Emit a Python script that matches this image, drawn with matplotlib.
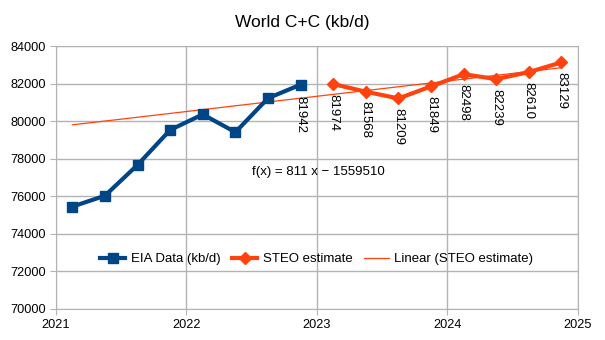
import matplotlib.pyplot as plt
import numpy as np

plt.rcParams['font.family'] = ['Liberation Sans', 'DejaVu Sans']

eia_x = [2021.125, 2021.375, 2021.625, 2021.875, 2022.125, 2022.375, 2022.625, 2022.875]
eia_y = [75450, 76030, 77670, 79530, 80360, 79410, 81220, 81942]
steo_x = [2023.125, 2023.375, 2023.625, 2023.875, 2024.125, 2024.375, 2024.625, 2024.875]
steo_y = [81974, 81568, 81209, 81849, 82498, 82239, 82610, 83129]
xticks = [2021, 2022, 2023, 2024, 2025]
yticks = list(range(70000, 84001, 2000))

blue = '#004586'
orange = '#ff420e'

fig = plt.figure(figsize=(6.05, 3.4), dpi=100)
ax = fig.add_axes([0.0926, 0.0912, 0.8624, 0.7735])

# linear trend of the STEO estimate, drawn back to the first EIA point
k, b = np.polyfit(steo_x, steo_y, 1)
tx = np.array([eia_x[0], steo_x[-1]])
ax.plot(tx, k * tx + b, color=orange, lw=0.9, label='Linear (STEO estimate)', zorder=2)

ax.plot(eia_x, eia_y, color=blue, lw=3, marker='s', ms=7.5, label='EIA Data (kb/d)', zorder=3)
ax.plot(steo_x, steo_y, color=orange, lw=3, marker='D', ms=6, label='STEO estimate', zorder=3)

ax.annotate(str(eia_y[-1]), (eia_x[-1], eia_y[-1]), xytext=(0, -8), textcoords='offset points',
            rotation=270, ha='center', va='top', fontsize=9.5)
for xv, yv in zip(steo_x, steo_y):
    ax.annotate(str(yv), (xv, yv), xytext=(0, -7), textcoords='offset points',
                rotation=270, ha='center', va='top', fontsize=9.5)

ax.text(2022.5, 77300, 'f(x) = 811 x \u2212 1559510', fontsize=9.5, va='center')

ax.set_xlim(2021, 2025)
ax.set_ylim(70000, 84000)
ax.set_xticks(xticks)
ax.set_yticks(yticks)
ax.tick_params(colors='#b3b3b3', labelcolor='black', labelsize=9.2, length=4)
ax.grid(color='#b3b3b3', lw=1)
ax.set_axisbelow(True)
for s in ax.spines.values():
    s.set_color('#b3b3b3')

h, l = ax.get_legend_handles_labels()
order = [1, 2, 0]
ax.legend([h[i] for i in order], [l[i] for i in order], loc='center', bbox_to_anchor=(0.5, 0.19),
          ncol=3, frameon=False, fontsize=9.5, handlelength=1.9, columnspacing=0.9, handletextpad=0.4)

fig.suptitle('World C+C (kb/d)', y=0.955, fontsize=12.5)
fig.savefig('out.png', dpi=100)
